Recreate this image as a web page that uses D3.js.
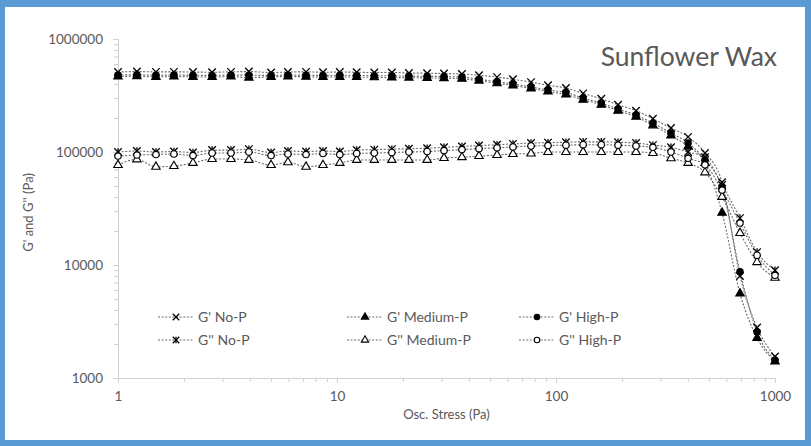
<!DOCTYPE html>
<html>
<head>
	<meta charset="utf-8">
	<title>Sunflower Wax stress sweep</title>
	<script type="text/javascript" src="https://d3js.org/d3.v7.min.js"></script>
	<style>
		body{ margin: 0; }
		.chart text{
			font-family: Lato, "Open Sans", sans-serif;
			fill: #595959;
		}
		.axis line, .axis path{ stroke: #d0d0d0; }
	</style>
</head>
<body>
<svg class="chart"></svg>

<script type="text/javascript">
	var stress = [1.00, 1.22, 1.49, 1.80, 2.20, 2.69, 3.28, 3.96, 5.00, 5.97, 7.22, 8.63, 10.3, 12.3, 14.8, 17.8, 21.3, 25.8, 30.8, 37.2,
		44.5, 53.8, 63.6, 76.9, 91.9, 111, 133, 161, 192, 232, 277, 335, 401, 479, 573, 692, 828, 1000];

	// moduli in kPa
	var gpNoP = [510, 515, 512, 512, 510, 508, 512, 515, 505, 510, 512, 508, 510, 508, 505, 505, 500, 498, 495, 490,
		478, 460, 440, 415, 390, 368, 330, 296, 262, 232, 197, 163, 136, 98, 54, 8.0, 2.8, 1.55];
	var gpMedP = [465, 468, 462, 466, 462, 460, 465, 455, 462, 466, 463, 460, 462, 460, 458, 456, 455, 452, 450, 444,
		428, 405, 388, 365, 343, 322, 290, 262, 232, 205, 172, 140, 112, 80, 29, 5.6, 2.26, 1.40];
	var gpHighP = [480, 482, 478, 480, 478, 476, 480, 478, 476, 480, 478, 476, 478, 476, 474, 472, 470, 468, 465, 460,
		440, 418, 400, 376, 354, 336, 300, 271, 240, 213, 180, 147, 120, 85, 48, 8.7, 2.55, 1.44];
	var gppNoP = [100, 102, 100, 101, 99, 104, 104, 106, 99, 102, 101, 102, 101, 104, 105, 106, 107, 108, 110, 112,
		114, 116, 118, 120, 121, 122, 123, 123, 122, 120, 115, 110, 100, 90, 51, 26, 13, 9.0];
	var gppMedP = [76.7, 86, 74, 75, 80, 86.6, 86.6, 85, 76.6, 81, 74, 76.6, 80, 85, 85, 85, 85, 85, 88.5, 90,
		92, 94, 96, 97, 100, 100, 100, 100, 100, 100, 98, 88, 80, 66, 40, 19.2, 10.6, 7.7];
	var gppHighP = [92, 94, 95, 96, 93, 98, 98, 100, 93, 96, 95, 97, 95, 97, 98, 99, 100, 101, 103, 105,
		107, 109, 111, 113, 114, 115, 116, 116, 115, 113, 110, 100, 88, 77, 46, 23.5, 12.2, 8.1];

	var seriesNames = ["G' No-P", "G' Medium-P", "G' High-P", "G'' No-P", "G'' Medium-P", "G'' High-P"];
	var seriesMarkers = ["cross", "triFill", "dotFill", "star", "triOpen", "dotOpen"];
	var seriesValues = [gpNoP, gpMedP, gpHighP, gppNoP, gppMedP, gppHighP];

	var xTicks = [1, 10, 100, 1000];
	var yTicks = [1000, 10000, 100000, 1000000];

	var width = 811, height = 446;
	var plot = {left: 118, right: 775, top: 39, bottom: 378};

	var svg = d3.select(".chart")
		.attr("width", width)
		.attr("height", height);

	// blue frame round the picture
	svg.append("rect").attr("width", width).attr("height", height).attr("fill", "#5b9bd5");
	svg.append("rect").attr("x", 5).attr("y", 7).attr("width", width - 11).attr("height", height - 13).attr("fill", "#fff");

	var x = d3.scaleLog().domain([1, 1000]).range([plot.left, plot.right]);
	var y = d3.scaleLog().domain([1000, 1000000]).range([plot.bottom, plot.top]);

	// minor ticks: 2..9 in each decade
	var xMinor = [], yMinor = [];
	[1, 10, 100].forEach(function(d){ for (var k = 2; k < 10; k++) xMinor.push(d * k); });
	[1000, 10000, 100000].forEach(function(d){ for (var k = 2; k < 10; k++) yMinor.push(d * k); });

	svg.append("g").attr("class", "axis")
		.attr("transform", "translate(0," + plot.bottom + ")")
		.call(d3.axisBottom(x).tickValues(xMinor).tickSize(4).tickFormat(""));
	svg.append("g").attr("class", "axis")
		.attr("transform", "translate(0," + plot.bottom + ")")
		.call(d3.axisBottom(x).tickValues(xTicks).tickSize(5).tickSizeOuter(0).tickPadding(8).tickFormat(d3.format("d")))
		.call(function(g){ g.selectAll("text").style("font-size", "13.5px"); });

	svg.append("g").attr("class", "axis")
		.attr("transform", "translate(" + plot.left + ",0)")
		.call(d3.axisLeft(y).tickValues(yMinor).tickSize(4).tickFormat(""));
	svg.append("g").attr("class", "axis")
		.attr("transform", "translate(" + plot.left + ",0)")
		.call(d3.axisLeft(y).tickValues(yTicks).tickSize(5).tickSizeOuter(0).tickPadding(10).tickFormat(d3.format("d")))
		.call(function(g){ g.selectAll("text").style("font-size", "13.5px"); });

	svg.selectAll(".axis text").attr("fill", "#595959");

	// axis titles
	svg.append("text")
		.attr("x", (plot.left + plot.right) / 2)
		.attr("y", 419)
		.attr("text-anchor", "middle")
		.style("font-size", "13px")
		.text("Osc. Stress (Pa)");
	svg.append("text")
		.attr("transform", "translate(33," + ((plot.top + plot.bottom) / 2 + 4) + ") rotate(-90)")
		.attr("text-anchor", "middle")
		.style("font-size", "13px")
		.text("G' and G'' (Pa)");

	svg.append("text")
		.attr("x", 777)
		.attr("y", 66)
		.attr("text-anchor", "end")
		.style("font-size", "26.5px")
		.text("Sunflower Wax");

	// draw one marker into a g, centred at 0,0
	function marker(g, type, s){
		var h = s / 2;
		if (type == "cross" || type == "star"){
			g.append("path").attr("d", "M" + (-h) + "," + (-h) + "L" + h + "," + h + "M" + (-h) + "," + h + "L" + h + "," + (-h))
				.attr("stroke", "#000").attr("stroke-width", 1.3);
			if (type == "star")
				g.append("path").attr("d", "M0," + (-h) + "L0," + h).attr("stroke", "#000").attr("stroke-width", 1.3);
		} else if (type == "triFill" || type == "triOpen"){
			g.append("path").attr("d", d3.symbol(d3.symbolTriangle, s * s * 0.55)())
				.attr("fill", type == "triFill" ? "#000" : "#fff")
				.attr("stroke", "#000").attr("stroke-width", 1.1);
		} else {
			g.append("circle").attr("r", h * 0.85)
				.attr("fill", type == "dotFill" ? "#000" : "#fff")
				.attr("stroke", "#000").attr("stroke-width", 1.1);
		}
	}

	var line = d3.line()
		.x(function(d){ return x(d[0]); })
		.y(function(d){ return y(d[1] * 1000); })
		.curve(d3.curveMonotoneX);

	var series = seriesNames.map(function(name, i){
		return {
			name: name,
			marker: seriesMarkers[i],
			points: stress.map(function(s, j){ return [s, seriesValues[i][j]]; })
		};
	});

	var lines = svg.append("g");
	series.forEach(function(s){
		lines.append("path")
			.attr("d", line(s.points))
			.attr("fill", "none")
			.attr("stroke", "#6a6a6a")
			.attr("stroke-width", 1.1)
			.attr("stroke-dasharray", "2,1.6");
	});

	series.forEach(function(s){
		svg.append("g").selectAll("g")
			.data(s.points)
		  .enter().append("g")
			.attr("transform", function(d){ return "translate(" + x(d[0]) + "," + y(d[1] * 1000) + ")"; })
			.each(function(){ marker(d3.select(this), s.marker, 7.5); });
	});

	// legend, three columns by two rows
	var legendCols = [158, 347, 519];
	var legendRows = [317, 340];
	series.forEach(function(s, i){
		var lx = legendCols[i % 3], ly = legendRows[Math.floor(i / 3)];
		var g = svg.append("g").attr("transform", "translate(" + lx + "," + ly + ")");
		g.append("line").attr("x1", 0).attr("x2", 36).attr("y1", 0).attr("y2", 0)
			.attr("stroke", "#6a6a6a").attr("stroke-width", 1.1).attr("stroke-dasharray", "2,1.6");
		marker(g.append("g").attr("transform", "translate(18,0)"), s.marker, 6.5);
		g.append("text").attr("x", 40).attr("y", 0).attr("dy", "0.35em")
			.style("font-size", "14px")
			.text(s.name);
	});
</script>
</body>
</html>
